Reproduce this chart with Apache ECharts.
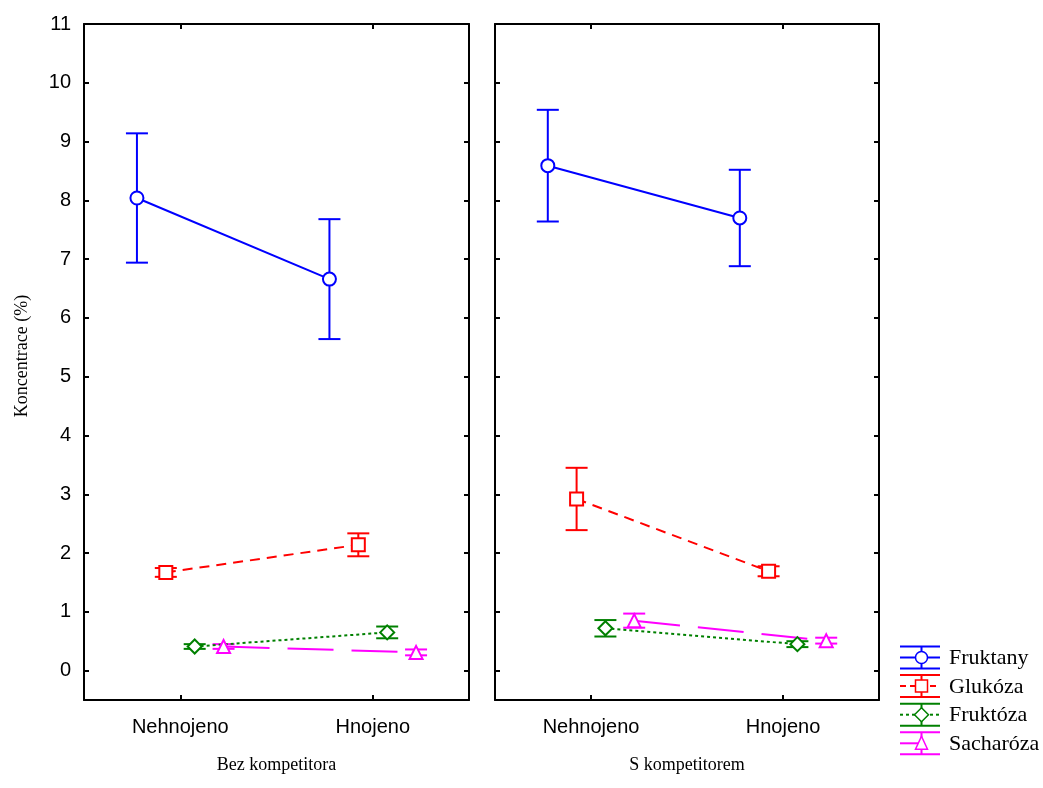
<!DOCTYPE html>
<html>
<head>
<meta charset="utf-8">
<script src="https://cdn.jsdelivr.net/npm/echarts@6/dist/echarts.min.js"></script>
<style>
  html, body { margin: 0; padding: 0; background: #fff; }
  #chart { width: 1043px; height: 788px; }
</style>
</head>
<body>
<div id="chart"></div>
<script>
// Treatments on the x axis and the two competition panels
const categories = ['Nehnojeno', 'Hnojeno'];
const panels = ['Bez kompetitora', 'S kompetitorem'];
const seriesNames = ['Fruktany', 'Glukóza', 'Fruktóza', 'Sacharóza'];

// Means per panel [Bez, S] and per treatment [Nehnojeno, Hnojeno]
const fruktanyMean  = [[8.04, 6.66], [8.59, 7.70]];
const fruktanyErr   = [[1.10, 1.02], [0.95, 0.82]];
const glukozaMean   = [[1.67, 2.14], [2.92, 1.69]];
const glukozaErr    = [[0.075, 0.195], [0.53, 0.085]];
const fruktozaMean  = [[0.41, 0.65], [0.72, 0.45]];
const fruktozaErr   = [[0.04, 0.10], [0.14, 0.05]];
const sacharozaMean = [[0.41, 0.31], [0.85, 0.51]];
const sacharozaErr  = [[0.04, 0.05], [0.12, 0.05]];

const yTicks = [0, 1, 2, 3, 4, 5, 6, 7, 8, 9, 10, 11];

const means = [fruktanyMean, glukozaMean, fruktozaMean, sacharozaMean];
const errs = [fruktanyErr, glukozaErr, fruktozaErr, sacharozaErr];

// Drawing styles of each substance
const colors = ['#0000ff', '#ff0000', '#008000', '#ff00ff'];
const dashes = ['solid', [10, 7], [3, 3], [46, 18]];
const symbols = ['emptyCircle', 'emptyRect', 'emptyDiamond', 'emptyTriangle'];
const dodge = [-0.225, -0.075, 0.075, 0.225];

const sansFont = '"Liberation Sans", Arial, sans-serif';
const serifFont = '"Liberation Serif", "Times New Roman", serif';

const grids = [
  { left: 84, top: 24, width: 385, height: 676 },
  { left: 495, top: 24, width: 384, height: 676 }
];

const axisLine = { show: true, onZero: false, lineStyle: { color: '#000', width: 2 } };
const xAxes = [];
const yAxes = [];
const series = [];

panels.forEach((title, p) => {
  // hidden value axis used to place the dodged points
  xAxes.push({
    type: 'value', gridIndex: p, min: -0.5, max: 1.5, show: false
  });
  // visible bottom category axis
  xAxes.push({
    type: 'category', gridIndex: p, position: 'bottom', data: categories,
    boundaryGap: true,
    axisLine: axisLine,
    axisTick: { show: true, inside: true, alignWithLabel: true, length: 5, lineStyle: { color: '#000', width: 2 } },
    axisLabel: { color: '#000', fontFamily: sansFont, fontSize: 20, margin: 17 },
    splitLine: { show: false },
    name: title, nameLocation: 'middle', nameGap: 56,
    nameTextStyle: { color: '#000', fontFamily: serifFont, fontSize: 18 }
  });
  // top frame axis
  xAxes.push({
    type: 'category', gridIndex: p, position: 'top', data: categories,
    boundaryGap: true,
    axisLine: axisLine,
    axisTick: { show: true, inside: true, alignWithLabel: true, length: 5, lineStyle: { color: '#000', width: 2 } },
    axisLabel: { show: false },
    splitLine: { show: false }
  });
  yAxes.push({
    type: 'value', gridIndex: p, position: 'left', min: -0.5, max: 11,
    axisLine: axisLine,
    axisTick: { show: true, inside: true, length: 5, customValues: yTicks, lineStyle: { color: '#000', width: 2 } },
    axisLabel: { show: p === 0, customValues: yTicks, color: '#000', fontFamily: sansFont, fontSize: 20, margin: 13 },
    splitLine: { show: false }
  });
  yAxes.push({
    type: 'value', gridIndex: p, position: 'right', min: -0.5, max: 11,
    axisLine: axisLine,
    axisTick: { show: true, inside: true, length: 5, customValues: yTicks, lineStyle: { color: '#000', width: 2 } },
    axisLabel: { show: false },
    splitLine: { show: false }
  });

  const xIdx = p * 3;
  const yIdx = p * 2;

  seriesNames.forEach((name, s) => {
    const pts = categories.map((c, k) => [k + dodge[s], means[s][p][k]]);
    const bars = categories.map((c, k) => [k + dodge[s], means[s][p][k] - errs[s][p][k], means[s][p][k] + errs[s][p][k]]);

    series.push({
      type: 'custom', name: name + ' err', xAxisIndex: xIdx, yAxisIndex: yIdx, z: 2,
      data: bars,
      encode: { x: 0, y: [1, 2] },
      renderItem: function (params, api) {
        const x = api.value(0);
        const top = api.coord([x, api.value(2)]);
        const bot = api.coord([x, api.value(1)]);
        const half = 11;
        const st = { stroke: colors[s], lineWidth: 2 };
        return {
          type: 'group',
          children: [
            { type: 'line', shape: { x1: top[0], y1: top[1], x2: bot[0], y2: bot[1] }, style: st },
            { type: 'line', shape: { x1: top[0] - half, y1: top[1], x2: top[0] + half, y2: top[1] }, style: st },
            { type: 'line', shape: { x1: bot[0] - half, y1: bot[1], x2: bot[0] + half, y2: bot[1] }, style: st }
          ]
        };
      }
    });

    series.push({
      type: 'line', name: name, xAxisIndex: xIdx, yAxisIndex: yIdx, z: 3,
      data: pts,
      symbol: symbols[s], symbolSize: s === 2 ? 14 : 13,
      showSymbol: true,
      lineStyle: { color: colors[s], width: 2, type: dashes[s] },
      itemStyle: { color: colors[s], borderWidth: 1.2 },
      emphasis: { disabled: true }
    });
  });
});

// Legend drawn as error-bar glyphs with the series line styles
const legendGraphics = [];
const lx1 = 900, lx2 = 940, lxc = 921.5, ly0 = 657.5, lstep = 28.6;
seriesNames.forEach((name, s) => {
  const cy = ly0 + s * lstep;
  const st = { stroke: colors[s], lineWidth: 2 };
  legendGraphics.push({ type: 'line', shape: { x1: lx1, y1: cy - 11, x2: lx2, y2: cy - 11 }, style: st });
  legendGraphics.push({ type: 'line', shape: { x1: lx1, y1: cy + 11, x2: lx2, y2: cy + 11 }, style: st });
  legendGraphics.push({ type: 'line', shape: { x1: lxc, y1: cy - 11, x2: lxc, y2: cy + 11 }, style: st });
  if (s === 3) {
    legendGraphics.push({ type: 'line', shape: { x1: lx1, y1: cy, x2: lxc, y2: cy }, style: st });
  } else {
    legendGraphics.push({
      type: 'line', shape: { x1: lx1, y1: cy, x2: lx2, y2: cy },
      style: { stroke: colors[s], lineWidth: 2, lineDash: s === 1 ? [6, 4] : (s === 2 ? [3, 3] : null) }
    });
  }
  const mk = { fill: '#fff', stroke: colors[s], lineWidth: 1.5 };
  if (s === 0) {
    legendGraphics.push({ type: 'circle', shape: { cx: lxc, cy: cy, r: 6 }, style: mk });
  } else if (s === 1) {
    legendGraphics.push({ type: 'rect', shape: { x: lxc - 6, y: cy - 6, width: 12, height: 12 }, style: mk });
  } else if (s === 2) {
    legendGraphics.push({ type: 'polygon', shape: { points: [[lxc, cy - 7], [lxc + 7, cy], [lxc, cy + 7], [lxc - 7, cy]] }, style: mk });
  } else {
    legendGraphics.push({ type: 'polygon', shape: { points: [[lxc, cy - 7], [lxc + 6, cy + 6], [lxc - 6, cy + 6]] }, style: mk });
  }
  legendGraphics.push({
    type: 'text', x: 949, y: cy + 1,
    style: { text: name, fill: '#000', font: '22px ' + serifFont, verticalAlign: 'middle', align: 'left' }
  });
});

legendGraphics.push({
  type: 'text', x: 22, y: 356, rotation: Math.PI / 2,
  style: { text: 'Koncentrace (%)', fill: '#000', font: '18px ' + serifFont, align: 'center', verticalAlign: 'middle' }
});

const chart = echarts.init(document.getElementById('chart'), null, { renderer: 'canvas' });
chart.setOption({
  animation: false,
  backgroundColor: '#fff',
  grid: grids,
  xAxis: xAxes,
  yAxis: yAxes,
  series: series,
  graphic: legendGraphics
});
</script>
</body>
</html>
